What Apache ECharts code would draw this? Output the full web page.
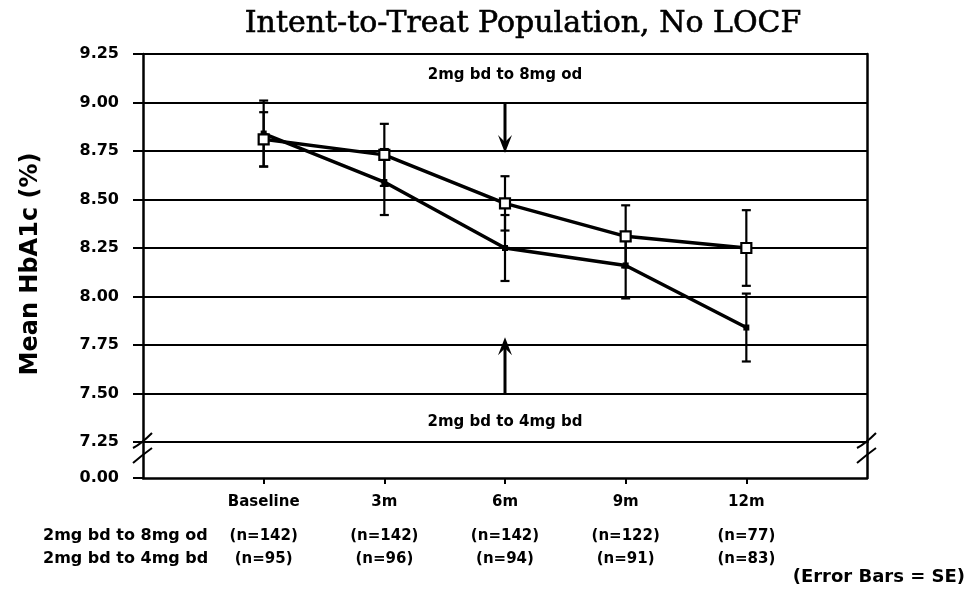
<!DOCTYPE html>
<html><head><meta charset="utf-8">
<script src="https://cdn.jsdelivr.net/npm/echarts@6/dist/echarts.min.js"></script>
<style>html,body{margin:0;padding:0;background:#fff}#c{width:967px;height:589px}</style>
</head><body><div id="c"></div>
<script>
const chartTitle = 'Intent-to-Treat Population, No LOCF';
const yTitle = 'Mean HbA1c (%)';
const categories = ['Baseline', '3m', '6m', '9m', '12m'];
const groupNames = ['2mg bd to 8mg od', '2mg bd to 4mg bd'];
const od8Mean = [8.81, 8.73, 8.48, 8.31, 8.25];
const od8SE   = [0.14, 0.16, 0.14, 0.16, 0.195];
const bd4Mean = [8.84, 8.59, 8.25, 8.16, 7.84];
const bd4SE   = [0.17, 0.17, 0.17, 0.17, 0.175];
const od8N = [142, 142, 142, 122, 77];
const bd4N = [95, 96, 94, 91, 83];
const yMin = 7.25, yMax = 9.25, yStep = 0.25;
const bottomTickLabel = '0.00';
const arrowSpecs = [ // [category, from, to]
  ['6m', 9.00, 8.74],
  ['6m', 7.50, 7.79]
];
const annotations = [ // [category, y, text]
  ['6m', 9.14, '2mg bd to 8mg od'],
  ['6m', 7.355, '2mg bd to 4mg bd']
];
const footnote = '(Error Bars = SE)';

const xCats = [''].concat(categories, [' ']);
const idx = c => categories.indexOf(c) + 1;
const FONT = 'DejaVu Sans';
const BLACK = '#000';

const chart = echarts.init(document.getElementById('c'), null, {renderer: 'canvas'});

function errRender(params, api) {
  const x = api.value(0), lo = api.value(1), hi = api.value(2);
  const p1 = api.coord([x, hi]), p2 = api.coord([x, lo]);
  const w = 4.5;
  const st = {stroke: BLACK, lineWidth: 2.2};
  return {type: 'group', children: [
    {type: 'line', shape: {x1: p1[0], y1: p1[1], x2: p2[0], y2: p2[1]}, style: st},
    {type: 'line', shape: {x1: p1[0] - w, y1: p1[1], x2: p1[0] + w, y2: p1[1]}, style: st},
    {type: 'line', shape: {x1: p2[0] - w, y1: p2[1], x2: p2[0] + w, y2: p2[1]}, style: st}
  ]};
}
function arrowRender(params, api) {
  const x = api.value(0);
  const a = api.coord([x, api.value(1)]), b = api.coord([x, api.value(2)]);
  const dir = b[1] > a[1] ? 1 : -1;
  const hl = 18, hw = 7;
  return {type: 'group', children: [
    {type: 'line', shape: {x1: a[0], y1: a[1], x2: b[0], y2: b[1] - dir * 8}, style: {stroke: BLACK, lineWidth: 3}},
    {type: 'polygon', shape: {points: [[b[0], b[1]], [b[0] - hw, b[1] - dir * hl], [b[0], b[1] - dir * 11], [b[0] + hw, b[1] - dir * hl]]}, style: {fill: BLACK}}
  ]};
}
function annRender(params, api) {
  const p = api.coord([api.value(0), api.value(1)]);
  return {type: 'text', x: p[0], y: p[1], style: {text: annotations[params.dataIndex][2], textAlign: 'center', textVerticalAlign: 'middle', font: 'bold 15px "' + FONT + '"', fill: BLACK}};
}

const axisLineStyle = {color: BLACK, width: 2.5};
const labelStyle = {color: BLACK, fontFamily: FONT, fontWeight: 'bold', fontSize: 15};
const tickLabelStyle = {color: BLACK, fontFamily: FONT, fontWeight: 'bold', fontSize: 16};

const option = {
  animation: false,
  backgroundColor: '#fff',
  title: {text: chartTitle, left: 518, top: 4, textAlign: 'center',
    textStyle: {fontFamily: 'DejaVu Serif', fontSize: 30, fontWeight: 'normal', color: BLACK, textBorderColor: BLACK, textBorderWidth: 0.6}},
  grid: [
    {left: 143, top: 54, width: 724, height: 388},
    {left: 143, top: 442, width: 724, height: 36}
  ],
  xAxis: [
    {gridIndex: 0, type: 'category', data: xCats, boundaryGap: false, show: false},
    {gridIndex: 1, type: 'category', data: xCats, boundaryGap: false, position: 'bottom',
      axisLine: {show: true, lineStyle: axisLineStyle},
      axisTick: {show: true, interval: (i) => i > 0 && i < xCats.length - 1, length: 6, lineStyle: {color: BLACK, width: 2}},
      axisLabel: Object.assign({interval: 0, margin: 17}, labelStyle)},
    {gridIndex: 1, type: 'category', data: [''].concat(od8N.map(n => '(n=' + n + ')'), [' ']), boundaryGap: false,
      position: 'bottom', offset: 34, axisLine: {show: false}, axisTick: {show: false},
      axisLabel: Object.assign({interval: 0, margin: 17}, labelStyle)},
    {gridIndex: 1, type: 'category', data: [''].concat(bd4N.map(n => '(n=' + n + ')'), [' ']), boundaryGap: false,
      position: 'bottom', offset: 57, axisLine: {show: false}, axisTick: {show: false},
      axisLabel: Object.assign({interval: 0, margin: 17}, labelStyle)}
  ],
  yAxis: [
    {gridIndex: 0, type: 'value', min: yMin, max: yMax, interval: yStep,
      axisLine: {show: true, lineStyle: axisLineStyle},
      axisTick: {show: true, length: 10, lineStyle: {color: BLACK, width: 2}},
      axisLabel: Object.assign({margin: 24, formatter: v => v.toFixed(2)}, tickLabelStyle),
      splitLine: {show: true, lineStyle: {color: BLACK, width: 2}}},
    {gridIndex: 0, type: 'value', position: 'right', min: yMin, max: yMax, interval: yStep,
      axisLine: {show: true, lineStyle: axisLineStyle}, axisTick: {show: false}, axisLabel: {show: false}, splitLine: {show: false}},
    {gridIndex: 1, type: 'value', min: 0, max: 1, interval: 1,
      axisLine: {show: true, lineStyle: axisLineStyle},
      axisTick: {show: true, length: 10, lineStyle: {color: BLACK, width: 2}},
      axisLabel: Object.assign({margin: 24, formatter: v => v === 0 ? bottomTickLabel : ''}, tickLabelStyle),
      splitLine: {show: false}},
    {gridIndex: 1, type: 'value', position: 'right', min: 0, max: 1, interval: 1,
      axisLine: {show: true, lineStyle: axisLineStyle}, axisTick: {show: false}, axisLabel: {show: false}, splitLine: {show: false}}
  ],
  series: [
    {type: 'custom', name: groupNames[0] + ' SE', xAxisIndex: 0, yAxisIndex: 0, z: 2, renderItem: errRender,
      data: od8Mean.map((m, i) => [i + 1, m - od8SE[i], m + od8SE[i]])},
    {type: 'custom', name: groupNames[1] + ' SE', xAxisIndex: 0, yAxisIndex: 0, z: 2, renderItem: errRender,
      data: bd4Mean.map((m, i) => [i + 1, m - bd4SE[i], m + bd4SE[i]])},
    {type: 'line', name: groupNames[1], xAxisIndex: 0, yAxisIndex: 0, z: 3,
      data: bd4Mean.map((m, i) => [i + 1, m]),
      lineStyle: {color: BLACK, width: 3.5}, symbol: 'rect', symbolSize: 6, itemStyle: {color: BLACK}},
    {type: 'line', name: groupNames[0], xAxisIndex: 0, yAxisIndex: 0, z: 4,
      data: od8Mean.map((m, i) => [i + 1, m]),
      lineStyle: {color: BLACK, width: 3.5}, symbol: 'rect', symbolSize: 10, showAllSymbol: true,
      itemStyle: {color: '#fff', borderColor: BLACK, borderWidth: 2.2}},
    {type: 'custom', name: 'arrows', xAxisIndex: 0, yAxisIndex: 0, z: 5, renderItem: arrowRender,
      data: arrowSpecs.map(a => [idx(a[0]), a[1], a[2]])},
    {type: 'custom', name: 'annotations', xAxisIndex: 0, yAxisIndex: 0, z: 5, renderItem: annRender,
      data: annotations.map(a => [idx(a[0]), a[1]])}
  ]
};
chart.setOption(option);

// decorations: axis break marks, side labels
const pL = chart.convertToPixel({gridIndex: 0}, [0, yMin]);
const pR = chart.convertToPixel({gridIndex: 0}, [xCats.length - 1, yMin]);
const pB = chart.convertToPixel({gridIndex: 1}, [0, 0]);
const els = [];
[pL[0], pR[0]].forEach(x => {
  const y = pL[1];
  els.push({type: 'bezierCurve', shape: {x1: x - 10, y1: y + 6, x2: x + 9, y2: y - 9, cpx1: x - 2, cpy1: y + 2}, style: {stroke: BLACK, lineWidth: 2, fill: null}});
  els.push({type: 'bezierCurve', shape: {x1: x - 10, y1: y + 21, x2: x + 9, y2: y + 6, cpx1: x - 2, cpy1: y + 14}, style: {stroke: BLACK, lineWidth: 2, fill: null}});
});
els.push({type: 'text', x: 31, y: 264, rotation: Math.PI / 2,
  style: {text: yTitle, textAlign: 'center', textVerticalAlign: 'middle', font: 'bold 24px "' + FONT + '"', fill: BLACK}});
els.push({type: 'text', x: 43, y: pB[1] + 58, style: {text: groupNames[0], textVerticalAlign: 'middle', font: 'bold 16px "' + FONT + '"', fill: BLACK}});
els.push({type: 'text', x: 43, y: pB[1] + 81, style: {text: groupNames[1], textVerticalAlign: 'middle', font: 'bold 16px "' + FONT + '"', fill: BLACK}});
els.push({type: 'text', x: 965, y: 577, style: {text: footnote, textAlign: 'right', textVerticalAlign: 'middle', font: 'bold 18px "' + FONT + '"', fill: BLACK}});
chart.setOption({graphic: {elements: els}});
</script></body></html>
